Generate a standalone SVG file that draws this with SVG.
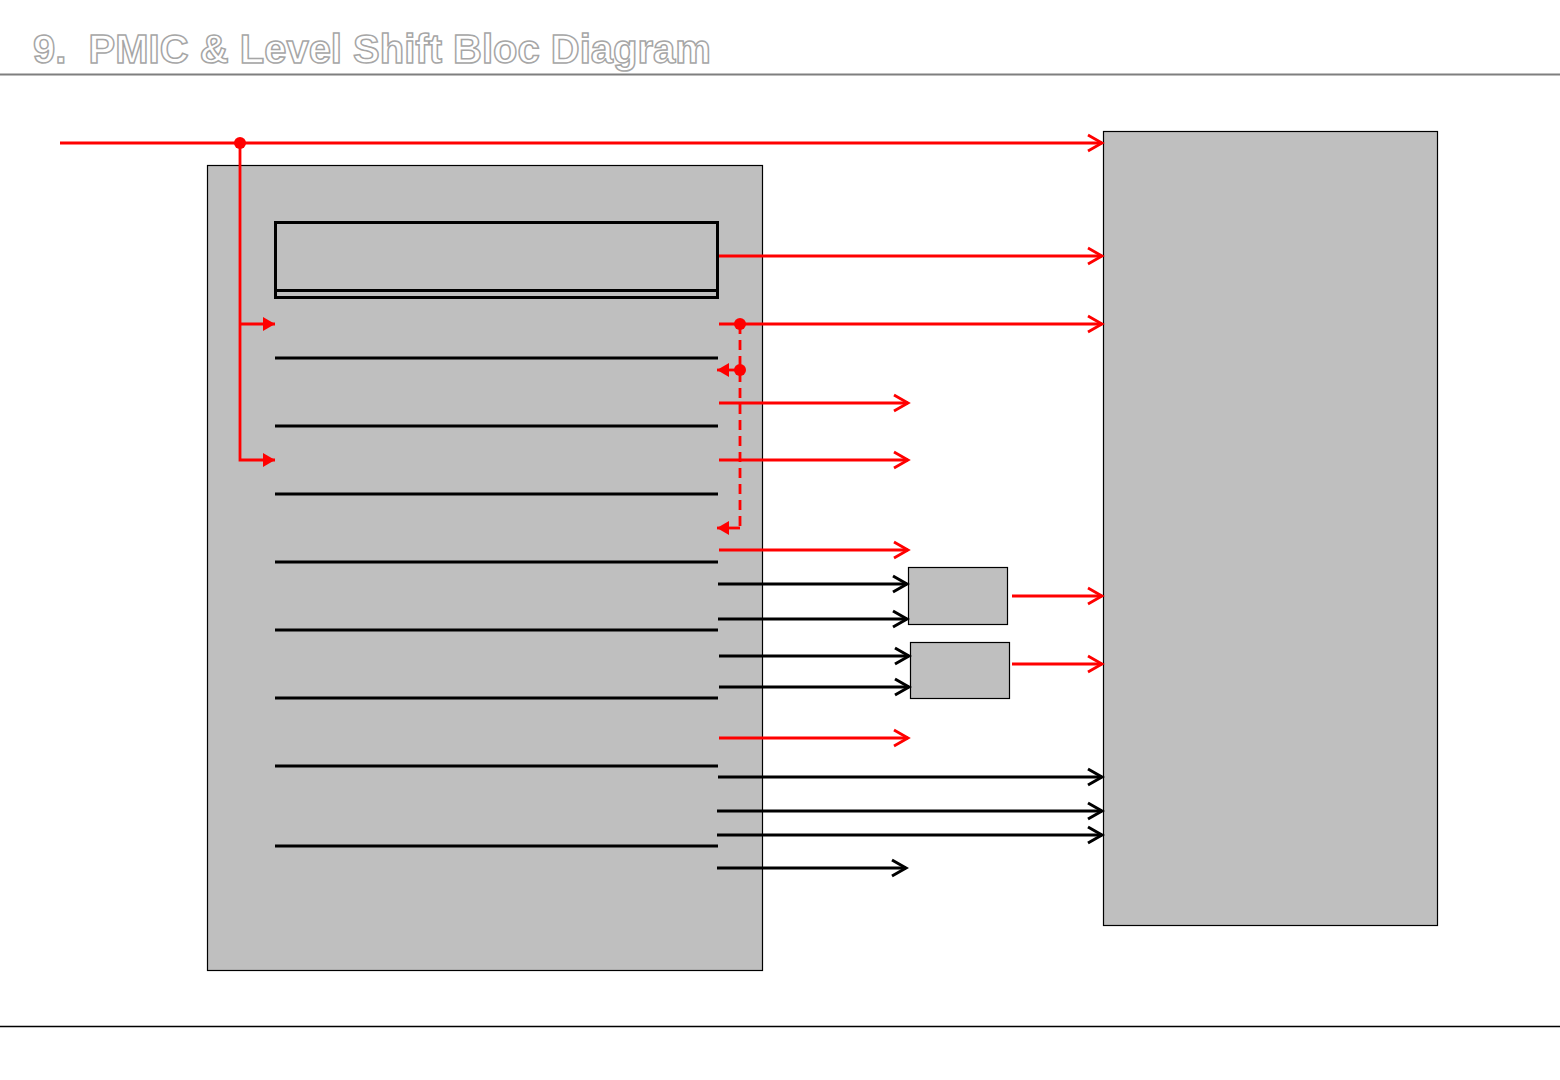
<svg xmlns="http://www.w3.org/2000/svg" width="1560" height="1080" viewBox="0 0 1560 1080">
<style>
.title{font-family:"Liberation Sans",Arial,sans-serif;font-weight:bold;font-size:40px;fill:#ffffff;stroke:#a6a6a6;stroke-width:1.5px;white-space:pre}
.blk{fill:#bfbfbf;stroke:#000;stroke-width:1.2}
.sep{stroke:#000;stroke-width:3;fill:none}
.r{stroke:#ff0000;stroke-width:2.8;fill:none}
.rd{stroke:#ff0000;stroke-width:2.8;fill:none;stroke-dasharray:10,6}
.k{stroke:#000;stroke-width:3;fill:none}
.dot{fill:#ff0000}
</style>
<defs>
<marker id="ar" markerUnits="userSpaceOnUse" markerWidth="20" markerHeight="20" viewBox="-16 -10 18 20" refX="0" refY="0" orient="auto">
<path d="M-14,-8 L0,0 L-14,8" fill="none" stroke="#ff0000" stroke-width="2.8"/>
</marker>
<marker id="ak" markerUnits="userSpaceOnUse" markerWidth="20" markerHeight="20" viewBox="-16 -10 18 20" refX="0" refY="0" orient="auto">
<path d="M-14,-8 L0,0 L-14,8" fill="none" stroke="#000" stroke-width="3"/>
</marker>
<marker id="tr" markerUnits="userSpaceOnUse" markerWidth="16" markerHeight="16" viewBox="-13 -8 14 16" refX="0" refY="0" orient="auto">
<path d="M-12,-7 L0,0 L-12,7 Z" fill="#ff0000"/>
</marker>
</defs>

<g id="header">
<text class="title" x="33" y="63" xml:space="preserve">9.  PMIC &amp; Level Shift Bloc Diagram</text>
<line x1="0" y1="74.5" x2="1560" y2="74.5" stroke="#7f7f7f" stroke-width="2"/>
<line x1="0" y1="1026.5" x2="1560" y2="1026.5" stroke="#000" stroke-width="1.5"/>
</g>

<g id="pmic">
<rect class="blk" x="207.5" y="165.5" width="555" height="805"/>
<rect x="275.5" y="222.5" width="442" height="75" fill="none" stroke="#000" stroke-width="3"/>
<line class="sep" x1="275" y1="290.5" x2="718" y2="290.5"/>
<line class="sep" x1="275" y1="358" x2="718" y2="358"/>
<line class="sep" x1="275" y1="426" x2="718" y2="426"/>
<line class="sep" x1="275" y1="494" x2="718" y2="494"/>
<line class="sep" x1="275" y1="562" x2="718" y2="562"/>
<line class="sep" x1="275" y1="630" x2="718" y2="630"/>
<line class="sep" x1="275" y1="698" x2="718" y2="698"/>
<line class="sep" x1="275" y1="766" x2="718" y2="766"/>
<line class="sep" x1="275" y1="846" x2="718" y2="846"/>
</g>

<g id="target">
<rect class="blk" x="1103.5" y="131.5" width="334" height="794"/>
</g>

<g id="ls1">
<rect class="blk" x="908.5" y="567.5" width="99" height="57"/>
</g>
<g id="ls2">
<rect class="blk" x="910.5" y="642.5" width="99" height="56"/>
</g>

<g id="connectors">
<line class="r" x1="60" y1="143" x2="1102" y2="143" marker-end="url(#ar)"/>
<circle class="dot" cx="240" cy="143" r="6"/>
<polyline class="r" points="240,143 240,460 275,460" marker-end="url(#tr)"/>
<line class="r" x1="240" y1="324" x2="275" y2="324" marker-end="url(#tr)"/>

<line class="r" x1="719" y1="256" x2="1102" y2="256" marker-end="url(#ar)"/>
<line class="r" x1="719" y1="324" x2="1102" y2="324" marker-end="url(#ar)"/>
<circle class="dot" cx="740" cy="324" r="6"/>
<line class="rd" x1="740" y1="324" x2="740" y2="528"/>
<circle class="dot" cx="740" cy="370" r="6"/>
<line class="r" x1="740" y1="370" x2="717" y2="370" marker-end="url(#tr)"/>
<line class="r" x1="740" y1="528" x2="717" y2="528" marker-end="url(#tr)"/>

<line class="r" x1="719" y1="403" x2="908" y2="403" marker-end="url(#ar)"/>
<line class="r" x1="719" y1="460" x2="908" y2="460" marker-end="url(#ar)"/>
<line class="r" x1="719" y1="550" x2="908" y2="550" marker-end="url(#ar)"/>
<line class="r" x1="719" y1="738" x2="908" y2="738" marker-end="url(#ar)"/>

<line class="k" x1="718" y1="584" x2="907" y2="584" marker-end="url(#ak)"/>
<line class="k" x1="718" y1="619" x2="907" y2="619" marker-end="url(#ak)"/>
<line class="k" x1="719" y1="656" x2="909" y2="656" marker-end="url(#ak)"/>
<line class="k" x1="719" y1="687" x2="909" y2="687" marker-end="url(#ak)"/>

<line class="r" x1="1012" y1="596" x2="1102" y2="596" marker-end="url(#ar)"/>
<line class="r" x1="1012" y1="664" x2="1102" y2="664" marker-end="url(#ar)"/>

<line class="k" x1="718" y1="777" x2="1102" y2="777" marker-end="url(#ak)"/>
<line class="k" x1="717" y1="811" x2="1102" y2="811" marker-end="url(#ak)"/>
<line class="k" x1="717" y1="835" x2="1102" y2="835" marker-end="url(#ak)"/>
<line class="k" x1="717" y1="868" x2="906" y2="868" marker-end="url(#ak)"/>
</g>
</svg>
